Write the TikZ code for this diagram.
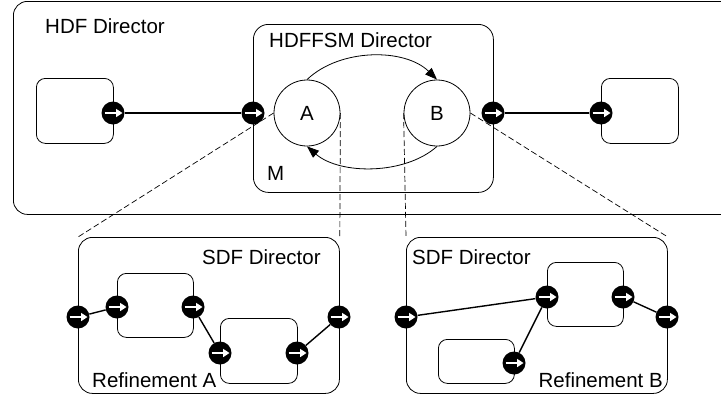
\documentclass[tikz,border=0pt]{standalone}
\usepackage{fontspec}
\setmainfont{Liberation Sans}
\usetikzlibrary{arrows.meta}
\tikzset{
  box/.style={draw, rounded corners=12pt, anchor=north west, inner sep=0pt, line width=0.8pt},
  actor/.style={draw, rounded corners=9pt, anchor=north west, inner sep=0pt, line width=0.8pt},
  state/.style={draw, circle, minimum size=66pt, inner sep=0pt, line width=0.8pt, font=\fontsize{20.5}{24}\selectfont},
  lbl/.style={inner sep=0pt, font=\fontsize{20.5}{24}\selectfont},
  port/.style={circle, fill=black, minimum size=23pt, inner sep=0pt,
    path picture={\draw[white, line width=2.2pt, -{Triangle[length=6.5pt,width=8pt]}]
      ([xshift=-8.5pt]path picture bounding box.center) -- ([xshift=9.5pt]path picture bounding box.center);}},
  conn/.style={line width=1.4pt},
  refl/.style={dash pattern=on 6pt off 3pt, line width=0.7pt},
  trans/.style={line width=0.8pt, -{Triangle[length=12pt,width=9pt]}}
}
\begin{document}
\begin{tikzpicture}[x=1pt,y=-1pt]
\useasboundingbox (0,0) rectangle (721,394);
\clip (0,0) rectangle (721,394);
% containers
\node[box, rounded corners=14pt, minimum width=727pt, minimum height=213pt] (hdf) at (13,1) {};
\node[box, rounded corners=15pt, minimum width=240pt, minimum height=168pt] (fsm) at (253,24) {};
\node[actor, minimum width=77pt, minimum height=65pt] (left) at (36,78) {};
\node[actor, minimum width=77pt, minimum height=65pt] (right) at (601,78) {};
\node[box, rounded corners=14pt, minimum width=261pt, minimum height=156pt] (refA) at (78,237) {};
\node[box, rounded corners=14pt, minimum width=261pt, minimum height=156pt] (refB) at (406,237) {};
\node[actor, minimum width=76pt, minimum height=64pt] (b1) at (117,273) {};
\node[actor, minimum width=77pt, minimum height=65pt] (b2) at (220,318) {};
\node[actor, minimum width=76pt, minimum height=64pt] (b3) at (547,262) {};
\node[actor, minimum width=76pt, minimum height=44pt] (b4) at (438,339) {};
% states
\node[state] (A) at (307,113) {A};
\node[state] (B) at (437,113) {B};
% labels
\node[lbl, anchor=base west] (thdf) at (45,33) {HDF Director};
\node[lbl, anchor=base west] (tfsm) at (269,47) {HDFFSM Director};
\node[lbl, anchor=base west] (tm) at (267,180) {M};
\node[lbl, anchor=base west] (tsdfa) at (202,264) {SDF Director};
\node[lbl, anchor=base west] (trefa) at (92,387) {Refinement A};
\node[lbl, anchor=base west] (tsdfb) at (412,264) {SDF Director};
\node[lbl, anchor=base east] (trefb) at (663,387) {Refinement B};
% transitions
\draw[trans] (A.north) .. controls (340,48) and (405,48) .. (B.north);
\draw[trans] (B.south) .. controls (405,175) and (340,175) .. (A.south);
% refinement dashed links
\draw[refl] (A.west) -- (refA.north west);
\draw[refl] (A.east) -- (refA.north east);
\draw[refl] (B.west) -- (refB.north west);
\draw[refl] (B.east) -- (refB.north east);
% ports top level
\node[port] (p1) at (113,113) {};
\node[port] (p2) at (253,113) {};
\node[port] (p3) at (493,113) {};
\node[port] (p4) at (601,113) {};
% ports refinement A
\node[port] (a1) at (78,317) {};
\node[port] (a2) at (117,307) {};
\node[port] (a3) at (193,307) {};
\node[port] (a4) at (220,353) {};
\node[port] (a5) at (297,353) {};
\node[port] (a6) at (339,317) {};
% ports refinement B
\node[port] (c1) at (406,317) {};
\node[port] (c2) at (547,297) {};
\node[port] (c3) at (623,297) {};
\node[port] (c4) at (514,363) {};
\node[port] (c5) at (667,317) {};
% connections
\draw[conn] (p1) -- (p2);
\draw[conn] (p3) -- (p4);
\draw[conn] (a1) -- (a2);
\draw[conn] (a3) -- (a4);
\draw[conn] (a5) -- (a6);
\draw[conn] (c1) -- (c2);
\draw[conn] (c4) -- (c2);
\draw[conn] (c3) -- (c5);
\end{tikzpicture}
\end{document}
